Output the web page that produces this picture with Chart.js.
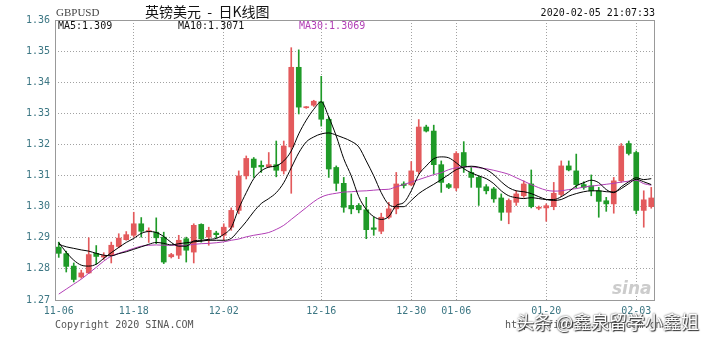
<!DOCTYPE html>
<html>
<head>
    <meta charset="utf-8">
    <title>英镑美元 - 日K线图</title>
    <script src="https://cdn.jsdelivr.net/npm/chart.js"></script>
    <style>
        body { margin: 0; background: #fff; }
        #wrap { position: relative; width: 707px; height: 342px; overflow: hidden; }
        #wrap canvas { position: absolute; left: 0; top: 0; }
        .t { position: absolute; white-space: pre; line-height: 1; }
        .mono { font-family: "DejaVu Sans Mono", monospace; font-size: 10px; }
    </style>
</head>
<body>
<div id="wrap">
    <canvas id="kline" width="707" height="342"></canvas>
    <div class="t" style="left:56px;top:7px;font-family:'Liberation Serif',serif;font-size:11px;color:#444">GBPUSD</div>
    <div class="t" style="left:145px;top:4px;font-family:'Noto Sans CJK SC',sans-serif;font-size:14px;color:#111">英镑美元  -  日K线图</div>
    <div class="t mono" style="right:52px;top:8px;color:#111">2020-02-05 21:07:33</div>
    <div class="t mono" style="left:58px;top:21px;color:#111">MA5:1.309</div>
    <div class="t mono" style="left:178px;top:21px;color:#111">MA10:1.3071</div>
    <div class="t mono" style="left:299px;top:21px;color:#b23fb6">MA30:1.3069</div>
    <div class="t" style="left:612px;top:280px;font-family:'DejaVu Sans',sans-serif;font-size:17px;font-weight:bold;font-style:italic;color:#cccccc">sina</div>
    <div class="t mono" style="left:55px;top:320px;color:#555">Copyright 2020 SINA.COM</div>
    <div class="t mono" style="left:505px;top:320px;color:#555">http://finance.sina.com.cn</div>
    <div class="t" style="left:516px;top:312px;font-family:'Noto Sans CJK SC',sans-serif;font-size:18px;color:#fff;text-shadow:0 0 2px #333,1px 1px 1px #333">头条 @鑫泉留学小鑫姐</div>
</div>
<script>
const categories = [
    '11-06','11-07','11-08','11-09','11-11','11-12','11-13','11-14','11-15','11-16',
    '11-18','11-19','11-20','11-21','11-22','11-23','11-25','11-26','11-27','11-28',
    '11-29','11-30','12-02','12-03','12-04','12-05','12-06','12-07','12-09','12-10',
    '12-11','12-12','12-13','12-14','12-15','12-16','12-17','12-18','12-19','12-20',
    '12-21','12-23','12-24','12-25','12-26','12-27','12-28','12-30','12-31','01-01',
    '01-02','01-03','01-04','01-06','01-07','01-08','01-09','01-10','01-11','01-13',
    '01-14','01-15','01-16','01-17','01-18','01-20','01-21','01-22','01-23','01-24',
    '01-25','01-27','01-28','01-29','01-30','01-31','02-01','02-03','02-04','02-05'
];
const tickDates = ['11-06','11-18','12-02','12-16','12-30','01-06','01-20','02-03'];

const openP = [
    1.2870,1.2849,1.2809,1.2774,1.2787,1.2850,1.2838,1.2844,1.2872,1.2894,
    1.2908,1.2945,1.2920,1.2918,1.2902,1.2839,1.2844,1.2897,1.2854,1.2943,
    1.2902,1.2915,1.2908,1.2934,1.2988,1.3099,1.3153,1.3133,1.3128,1.3135,
    1.3115,1.3192,1.3448,1.3318,1.3326,1.3337,1.3281,1.3126,1.3075,1.3004,
    1.3004,1.2990,1.2932,1.2921,1.2966,1.2993,1.3073,1.3070,1.3113,1.3256,
    1.3243,1.3135,1.3071,1.3060,1.3174,1.3110,1.3094,1.3064,1.3057,1.3028,
    1.2982,1.3014,1.3035,1.3073,1.2995,1.2996,1.3000,1.3039,1.3131,1.3115,
    1.3071,1.3067,1.3051,1.3019,1.3009,1.3083,1.3203,1.3174,1.2988,1.3000
];
const highP = [
    1.2886,1.2857,1.2819,1.2796,1.2900,1.2875,1.2852,1.2886,1.2913,1.2920,
    1.2982,1.2965,1.2932,1.2964,1.2918,1.2850,1.2908,1.2902,1.2945,1.2945,
    1.2934,1.2921,1.2945,1.2996,1.3115,1.3163,1.3158,1.3147,1.3174,1.3211,
    1.3211,1.3511,1.3504,1.3322,1.3342,1.3419,1.3288,1.3131,1.3094,1.3041,
    1.3010,1.3030,1.2966,1.2979,1.3014,1.3110,1.3080,1.3145,1.3280,1.3262,
    1.3262,1.3147,1.3075,1.3177,1.3209,1.3126,1.3099,1.3071,1.3062,1.3041,
    1.3025,1.3051,1.3083,1.3118,1.3002,1.3009,1.3078,1.3147,1.3147,1.3169,
    1.3080,1.3102,1.3062,1.3030,1.3094,1.3203,1.3211,1.3179,1.3051,1.3062
];
const lowP = [
    1.2837,1.2790,1.2758,1.2770,1.2785,1.2815,1.2830,1.2819,1.2868,1.2892,
    1.2902,1.2902,1.2885,1.2881,1.2817,1.2835,1.2833,1.2822,1.2819,1.2886,
    1.2876,1.2900,1.2892,1.2924,1.2977,1.3089,1.3094,1.3110,1.3126,1.3096,
    1.3105,1.3043,1.3298,1.3316,1.3322,1.3259,1.3094,1.3051,1.2982,1.2977,
    1.2980,1.2897,1.2908,1.2913,1.2961,1.2977,1.3060,1.3067,1.3105,1.3240,
    1.3105,1.3046,1.3058,1.3051,1.3110,1.3062,1.3004,1.3041,1.3014,1.2956,
    1.2945,1.3004,1.3030,1.2996,1.2990,1.2953,1.2990,1.3032,1.3115,1.3060,
    1.3056,1.3035,1.2966,1.2985,1.2979,1.3078,1.3166,1.2977,1.2934,1.2995
];
const closeP = [
    1.2850,1.2808,1.2766,1.2787,1.2846,1.2840,1.2843,1.2876,1.2899,1.2910,
    1.2945,1.2921,1.2922,1.2900,1.2822,1.2846,1.2892,1.2860,1.2940,1.2897,
    1.2924,1.2910,1.2934,1.2988,1.3099,1.3155,1.3126,1.3128,1.3135,1.3117,
    1.3195,1.3448,1.3320,1.3320,1.3339,1.3281,1.3121,1.3075,1.2998,1.2993,
    1.2990,1.2926,1.2927,1.2966,1.2993,1.3073,1.3068,1.3115,1.3256,1.3243,
    1.3135,1.3078,1.3062,1.3171,1.3128,1.3094,1.3062,1.3051,1.3025,1.2982,
    1.3020,1.3041,1.3073,1.3000,1.2998,1.3003,1.3043,1.3131,1.3118,1.3071,
    1.3062,1.3051,1.3017,1.3009,1.3083,1.3195,1.3171,1.2988,1.3022,1.3028
];

const ma5 = [
    1.2885,1.2853,1.2828,1.2812,1.2809,1.2815,1.2834,1.2852,1.2869,1.2885,
    1.2898,1.2914,1.2920,1.2917,1.2904,1.2885,1.2873,1.2873,1.2890,1.2892,
    1.2895,1.2898,1.2911,1.2933,1.2994,1.3045,1.3090,1.3115,1.3127,1.3131,
    1.3147,1.3179,1.3234,1.3278,1.3313,1.3337,1.3288,1.3227,1.3154,1.3099,
    1.3032,1.2991,1.2968,1.2959,1.2968,1.3004,1.3013,1.3051,1.3103,1.3131,
    1.3154,1.3160,1.3157,1.3141,1.3122,1.3109,1.3099,1.3090,1.3074,1.3051,
    1.3035,1.3029,1.3026,1.3029,1.3026,1.3023,1.3023,1.3032,1.3048,1.3067,
    1.3077,1.3085,1.3077,1.3055,1.3045,1.3064,1.3080,1.3093,1.3087,1.3090
];
const ma10 = [
    1.2879,1.2871,1.2866,1.2861,1.2857,1.2850,1.2844,1.2842,1.2849,1.2855,
    1.2863,1.2871,1.2879,1.2885,1.2882,1.2877,1.2881,1.2884,1.2887,1.2889,
    1.2892,1.2892,1.2892,1.2898,1.2924,1.2952,1.2984,1.3010,1.3026,1.3045,
    1.3077,1.3125,1.3173,1.3208,1.3224,1.3234,1.3237,1.3230,1.3221,1.3210,
    1.3192,1.3147,1.3099,1.3045,1.3007,1.3000,1.3000,1.3020,1.3042,1.3058,
    1.3072,1.3087,1.3103,1.3119,1.3127,1.3130,1.3127,1.3119,1.3103,1.3080,
    1.3061,1.3051,1.3048,1.3042,1.3032,1.3023,1.3020,1.3023,1.3034,1.3042,
    1.3048,1.3051,1.3051,1.3048,1.3047,1.3058,1.3074,1.3088,1.3080,1.3071
];
const ma30 = [
    1.2719,1.2735,1.2751,1.2767,1.2786,1.2805,1.2825,1.2841,1.2850,1.2858,
    1.2866,1.2873,1.2876,1.2877,1.2876,1.2876,1.2876,1.2876,1.2879,1.2881,
    1.2882,1.2884,1.2887,1.2892,1.2896,1.2903,1.2908,1.2912,1.2917,1.2927,
    1.2940,1.2959,1.2978,1.2997,1.3016,1.3031,1.3039,1.3043,1.3047,1.3048,
    1.3050,1.3051,1.3053,1.3055,1.3056,1.3064,1.3071,1.3079,1.3087,1.3095,
    1.3103,1.3109,1.3119,1.3125,1.3128,1.3128,1.3125,1.3122,1.3117,1.3111,
    1.3104,1.3093,1.3082,1.3071,1.3061,1.3053,1.3050,1.3051,1.3055,1.3058,
    1.3063,1.3066,1.3069,1.3072,1.3075,1.3079,1.3082,1.3085,1.3074,1.3069
];

const UP = '#e35a5c';
const DOWN = '#1f9a28';
const TEAL = '#3d7784';
const GRID = '#a2a2a2';
const monoFont = { family: 'DejaVu Sans Mono', size: 10 };

const candleColor = closeP.map((c, i) => c >= openP[i] ? UP : DOWN);

// frame round the plot area (top and right sides have no axis of their own)
const frame = {
    id: 'frame',
    afterDatasetsDraw(chart) {
        const { ctx, chartArea: a } = chart;
        ctx.save();
        ctx.strokeStyle = '#999';
        ctx.lineWidth = 1;
        ctx.strokeRect(Math.round(a.left) + 0.5, Math.round(a.top) + 0.5,
            Math.round(a.right - a.left) - 1, Math.round(a.bottom - a.top));
        ctx.restore();
    }
};

const ctx = document.getElementById('kline').getContext('2d');
new Chart(ctx, {
    type: 'bar',
    data: {
        labels: categories,
        datasets: [
            { type: 'line', label: 'MA5', data: ma5, borderColor: '#000', borderWidth: 1,
              pointRadius: 0, cubicInterpolationMode: 'monotone', order: 0 },
            { type: 'line', label: 'MA10', data: ma10, borderColor: '#000', borderWidth: 1,
              pointRadius: 0, cubicInterpolationMode: 'monotone', order: 1 },
            { type: 'line', label: 'MA30', data: ma30, borderColor: '#b23fb6', borderWidth: 1,
              pointRadius: 0, cubicInterpolationMode: 'monotone', order: 2 },
            { label: 'body', data: openP.map((o, i) => [Math.min(o, closeP[i]), Math.max(o, closeP[i])]),
              backgroundColor: candleColor, barThickness: 5, minBarLength: 1, grouped: false, order: 3 },
            { label: 'wick', data: lowP.map((l, i) => [l, highP[i]]),
              backgroundColor: candleColor, barThickness: 1, grouped: false, order: 4 }
        ]
    },
    options: {
        responsive: false,
        animation: false,
        layout: { padding: { top: 20, right: 52, left: 0, bottom: 0 } },
        plugins: { legend: { display: false }, tooltip: { enabled: false } },
        scales: {
            x: {
                offset: true,
                grid: {
                    offset: false,
                    drawTicks: false,
                    color: c => (c.index > 0 && tickDates.includes(categories[c.index])) ? GRID : 'transparent'
                },
                border: { display: false, dash: [1, 2] },
                ticks: {
                    autoSkip: false,
                    maxRotation: 0,
                    padding: 5,
                    color: TEAL,
                    font: monoFont,
                    callback: (v, i) => tickDates.includes(categories[i]) ? categories[i] : ''
                },
                afterFit: s => { s.height = 42; }
            },
            y: {
                min: 1.27,
                max: 1.36,
                grid: { color: GRID, drawTicks: false },
                border: { display: false, dash: [1, 2] },
                ticks: {
                    stepSize: 0.01,
                    padding: 5,
                    color: TEAL,
                    font: monoFont,
                    callback: v => v.toFixed(2)
                },
                afterFit: s => { s.width = 55; }
            }
        }
    },
    plugins: [frame]
});
</script>
</body>
</html>
